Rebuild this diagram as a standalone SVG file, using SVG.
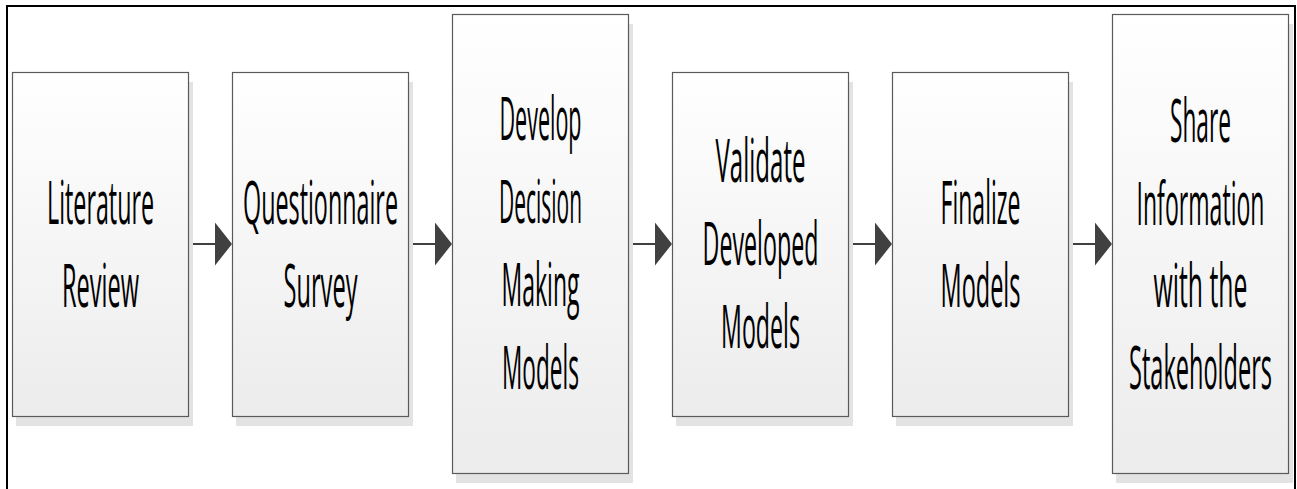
<svg xmlns="http://www.w3.org/2000/svg" width="1297" height="489" viewBox="0 0 1297 489">
<style>
.shadow{fill:#e3e3e3;stroke:none}
.box{fill:url(#g);stroke:#5a5a5a;stroke-width:1.2}
.lbl{font-family:"Open Sans","Liberation Sans",sans-serif;font-size:60px;fill:#000;text-anchor:middle}
.conn{stroke:#404040;stroke-width:2;fill:none;marker-end:url(#ah)}
</style>
<defs>
<linearGradient id="g" x1="0" y1="0" x2="0" y2="1">
<stop offset="0" stop-color="#ffffff"/>
<stop offset="1" stop-color="#ececec"/>
</linearGradient>
<marker id="ah" markerUnits="userSpaceOnUse" markerWidth="17" markerHeight="43" refX="15" refY="21.5" orient="auto" viewBox="0 0 17 43">
<path d="M0,0 L17,21.5 L0,43 Z" fill="#404040"/>
</marker>
</defs>
<rect x="-10" y="6" width="1305" height="500" fill="#ffffff" stroke="none"/>
<path d="M7,500 L7,6 L1295,6 L1295,500" fill="none" stroke="#000" stroke-width="2"/>

<g id="connectors">
<line class="conn" x1="189" y1="244" x2="230" y2="244"/>
<line class="conn" x1="409" y1="244" x2="450" y2="244"/>
<line class="conn" x1="629" y1="244" x2="670" y2="244"/>
<line class="conn" x1="849" y1="244" x2="890" y2="244"/>
<line class="conn" x1="1069" y1="244" x2="1110" y2="244"/>
</g>

<g id="n1">
<rect class="shadow" x="16" y="82" width="177" height="344"/>
<rect class="box" x="12.5" y="72.5" width="176" height="344"/>
<text class="lbl" transform="translate(100.5,224) scale(0.4,1)" textLength="267.5" lengthAdjust="spacingAndGlyphs">Literature</text>
<text class="lbl" transform="translate(100.5,307) scale(0.4,1)" textLength="192.5" lengthAdjust="spacingAndGlyphs">Review</text>
</g>

<g id="n2">
<rect class="shadow" x="236" y="82" width="177" height="344"/>
<rect class="box" x="232.5" y="72.5" width="176" height="344"/>
<text class="lbl" transform="translate(320.5,224) scale(0.4,1)" textLength="387.5" lengthAdjust="spacingAndGlyphs">Questionnaire</text>
<text class="lbl" transform="translate(320.5,307) scale(0.4,1)" textLength="185" lengthAdjust="spacingAndGlyphs">Survey</text>
</g>

<g id="n3">
<rect class="shadow" x="456" y="24" width="177" height="459"/>
<rect class="box" x="452.5" y="14.5" width="176" height="459"/>
<text class="lbl" transform="translate(540.5,140) scale(0.4,1)" textLength="205" lengthAdjust="spacingAndGlyphs">Develop</text>
<text class="lbl" transform="translate(540.5,223) scale(0.4,1)" textLength="207.5" lengthAdjust="spacingAndGlyphs">Decision</text>
<text class="lbl" transform="translate(540.5,306) scale(0.4,1)" textLength="195" lengthAdjust="spacingAndGlyphs">Making</text>
<text class="lbl" transform="translate(540.5,389) scale(0.4,1)" textLength="192.5" lengthAdjust="spacingAndGlyphs">Models</text>
</g>

<g id="n4">
<rect class="shadow" x="676" y="82" width="177" height="344"/>
<rect class="box" x="672.5" y="72.5" width="176" height="344"/>
<text class="lbl" transform="translate(760.5,182) scale(0.4,1)" textLength="225" lengthAdjust="spacingAndGlyphs">Validate</text>
<text class="lbl" transform="translate(760.5,265) scale(0.4,1)" textLength="290" lengthAdjust="spacingAndGlyphs">Developed</text>
<text class="lbl" transform="translate(760.5,348) scale(0.4,1)" textLength="197.5" lengthAdjust="spacingAndGlyphs">Models</text>
</g>

<g id="n5">
<rect class="shadow" x="896" y="82" width="177" height="344"/>
<rect class="box" x="892.5" y="72.5" width="176" height="344"/>
<text class="lbl" transform="translate(980.5,224) scale(0.4,1)" textLength="200" lengthAdjust="spacingAndGlyphs">Finalize</text>
<text class="lbl" transform="translate(980.5,307) scale(0.4,1)" textLength="200" lengthAdjust="spacingAndGlyphs">Models</text>
</g>

<g id="n6">
<rect class="shadow" x="1116" y="24" width="177" height="459"/>
<rect class="box" x="1112.5" y="14.5" width="176" height="459"/>
<text class="lbl" transform="translate(1200.5,142) scale(0.4,1)" textLength="152.5" lengthAdjust="spacingAndGlyphs">Share</text>
<text class="lbl" transform="translate(1200.5,225) scale(0.4,1)" textLength="320" lengthAdjust="spacingAndGlyphs">Information</text>
<text class="lbl" transform="translate(1200.5,307) scale(0.4,1)" textLength="235" lengthAdjust="spacingAndGlyphs">with the</text>
<text class="lbl" transform="translate(1200.5,389) scale(0.4,1)" textLength="357.5" lengthAdjust="spacingAndGlyphs">Stakeholders</text>
</g>
</svg>
